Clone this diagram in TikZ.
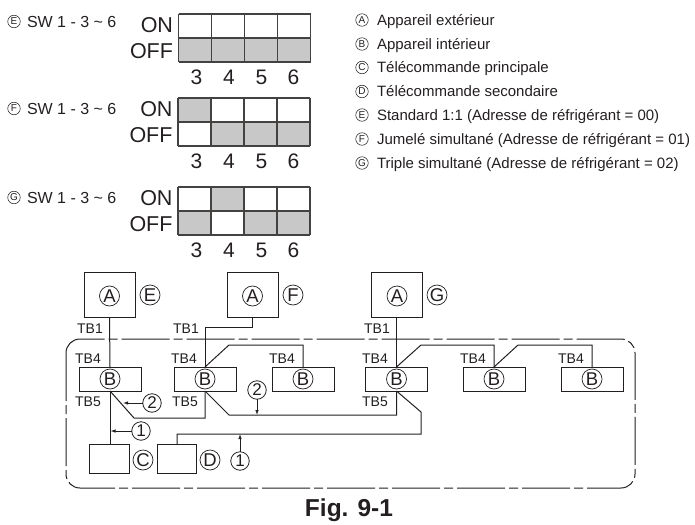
\documentclass[tikz,border=0pt]{standalone}
\usepackage{fontspec}
\setmainfont{Liberation Sans}
\usetikzlibrary{arrows.meta}
\definecolor{ink}{HTML}{231F20}
\definecolor{cellgray}{HTML}{C8C8C8}
\newcommand{\fsz}[1]{\fontsize{#1}{#1}\selectfont}
\tikzset{
  every node/.style={text=ink,inner sep=0pt,outer sep=0pt},
  wire/.style={draw=ink,line width=1pt,line join=miter},
  bigmark/.style={circle,draw=ink,line width=0.7pt,minimum size=20pt,font=\fsz{18.5}},
  keymark/.style={circle,draw=ink,line width=0.55pt,minimum size=12.5pt,font=\fsz{10}},
  numcirc/.style={circle,draw=ink,line width=0.8pt,minimum size=18.5pt,font=\fsz{17}},
  unitbox/.style={rectangle,draw=ink,line width=1pt},
  outbox/.style={unitbox,minimum width=51pt,minimum height=45pt},
  inbox/.style={unitbox,minimum width=62pt,minimum height=24pt},
  rcbox/.style={unitbox,minimum width=39.5pt,minimum height=29pt},
  tb/.style={font=\fsz{14}},
  legend/.style={anchor=base west,font=\fsz{15}},
  swlab/.style={anchor=base west,font=\fsz{16}},
  onoff/.style={anchor=east,font=\fsz{21.5}},
  digit/.style={font=\fsz{21}},
  fin/.style={-{Latex[length=5pt,width=3.5pt]},draw=ink,line width=0.8pt},
  grid line/.style={draw=ink!85,line width=1.1pt}
}
\newcommand{\swgrid}[6]{%
  \foreach \c/\v in {0/#3,1/#4,2/#5,3/#6}{%
    \pgfmathsetmacro{\xa}{#2+33*\c}%
    \pgfmathsetmacro{\xb}{#2+33*\c+33}%
    \ifnum\v=1
      \fill[cellgray] (\xa,#1) rectangle (\xb,#1+24);
    \else
      \fill[cellgray] (\xa,#1+24) rectangle (\xb,#1+48);
    \fi
  }%
  \foreach \c in {0,1,2,3,4}{%
    \pgfmathsetmacro{\xa}{#2+33*\c}%
    \draw[grid line] (\xa,#1) -- (\xa,#1+48);
  }%
  \foreach \r in {0,1,2}{%
    \pgfmathsetmacro{\ya}{#1+24*\r}%
    \draw[grid line] (#2,\ya) -- (#2+132,\ya);
  }%
}
\begin{document}
\begin{tikzpicture}[x=1pt,y=-1pt]
\useasboundingbox (0,0) rectangle (695,524);
% switch panels
\swgrid{14}{178.5}{0}{0}{0}{0}
\swgrid{98}{178}{1}{0}{0}{0}
\swgrid{187}{178}{0}{1}{0}{0}
\node[keymark] (sE) at (14,21.5) {E};
\node[swlab] (tE) at (27,27.5) {SW 1 - 3 \textasciitilde\ 6};
\node[keymark] (sF) at (14,108.5) {F};
\node[swlab] (tF) at (27,114) {SW 1 - 3 \textasciitilde\ 6};
\node[keymark] (sG) at (14,197.5) {G};
\node[swlab] (tG) at (27,203) {SW 1 - 3 \textasciitilde\ 6};
\node[onoff] (on1) at (173,25) {ON};
\node[onoff] (off1) at (173,51.5) {OFF};
\node[onoff] (on2) at (172.5,109) {ON};
\node[onoff] (off2) at (172.5,135) {OFF};
\node[onoff] (on3) at (172.5,198) {ON};
\node[onoff] (off3) at (172.5,224) {OFF};
\foreach \yy/\n in {77/a,161/b,250/c}{
  \node[digit] (d3\n) at (196.5,\yy) {3};
  \node[digit] (d4\n) at (229,\yy) {4};
  \node[digit] (d5\n) at (261.5,\yy) {5};
  \node[digit] (d6\n) at (293.5,\yy) {6};
}
% legend
\foreach \yy/\l/\t in {
  20/A/Appareil extérieur,
  44/B/Appareil intérieur,
  67.5/C/Télécommande principale,
  91.5/D/Télécommande secondaire,
  115/E/Standard 1:1 (Adresse de réfrigérant = 00),
  139/F/Jumelé simultané (Adresse de réfrigérant = 01),
  163/G/Triple simultané (Adresse de réfrigérant = 02)}{
  \node[keymark] (k\l) at (362,\yy) {\l};
  \node[legend] (l\l) at (377,\yy+5.2) {\t};
}
% enclosure
\draw[ink,line width=1pt,rounded corners=14pt,dash pattern=on 48pt off 4pt on 9pt off 4pt]
  (66,339) rectangle (635,488);
% outdoor units
\node[outbox] (a1) at (109.5,294.5) {};
\node[outbox] (a2) at (252.5,294.5) {};
\node[outbox] (a3) at (396.5,294.5) {};
\node[bigmark] (ma1) at (109.5,296) {A};
\node[bigmark] (ma2) at (252.5,296) {A};
\node[bigmark] (ma3) at (397,296) {A};
\node[bigmark] (mE) at (150,295) {E};
\node[bigmark] (mF) at (293,295) {F};
\node[bigmark] (mG) at (437,295) {G};
% indoor units
\node[inbox] (b1) at (110,379) {};
\node[inbox] (b2) at (205,379) {};
\node[inbox] (b3) at (303,379) {};
\node[inbox] (b4) at (396.5,379) {};
\node[inbox] (b5) at (494,379) {};
\node[inbox] (b6) at (592,379) {};
\foreach \i in {1,...,6}{ \node[bigmark] (mb\i) at (b\i) {B}; }
% remote controllers
\node[rcbox] (c) at (109.5,458.5) {};
\node[rcbox] (d) at (177,458.5) {};
\node[bigmark] (mC) at (143,460) {C};
\node[bigmark] (mD) at (210,460) {D};
% TB labels
\node[tb] (t11) at (90,329) {TB1};
\node[tb] (t12) at (186,329) {TB1};
\node[tb] (t13) at (377,329) {TB1};
\node[tb] (t41) at (88,359) {TB4};
\node[tb] (t42) at (184,359) {TB4};
\node[tb] (t43) at (282,359) {TB4};
\node[tb] (t44) at (375,359) {TB4};
\node[tb] (t45) at (473,359) {TB4};
\node[tb] (t46) at (571,359) {TB4};
\node[tb] (t51) at (88,402) {TB5};
\node[tb] (t52) at (185,402) {TB5};
\node[tb] (t53) at (375,402) {TB5};
% wiring
\draw[wire] (a1.south) -- (b1.north);
\draw[wire] (a2.south) |- (205,327) -- (b2.north);
\draw[wire] (a3.south) -- (b4.north);
\draw[wire] (b2.north) -- (229,345) -| (b3.north);
\draw[wire] (b4.north) -- (421,345) -| (b5.north);
\draw[wire] (b5.north) -- (518,345) -| (b6.north);
\draw[wire] (b1.south) -- (b1.south |- c.north);
\draw[wire] (b1.south) -- (134,418) -| (b2.south);
\draw[wire] (b2.south) -- (229,415) -| (b4.south);
\draw[wire] (b4.south) -- (421,412) -- (421,434) -| (d.north);
% wire number marks
\coordinate (p2a) at (123,403);
\coordinate (p1a) at (110.5,431);
\coordinate (p2b) at (257,415);
\coordinate (p1b) at (240,434);
\node[numcirc] (n2a) at (152,403) {2};
\node[numcirc] (n1a) at (141,431) {1};
\node[numcirc] (n2b) at (257,390) {2};
\node[numcirc] (n1b) at (240,461) {1};
\draw[fin] (n2a) -- (p2a);
\draw[fin] (n1a) -- (p1a);
\draw[fin] (n2b) -- (p2b);
\draw[fin] (n1b) -- (p1b);
% caption
\node[font=\fsz{24.5}\bfseries] (cap) at (349,510) {Fig. 9-1};
\end{tikzpicture}
\end{document}
